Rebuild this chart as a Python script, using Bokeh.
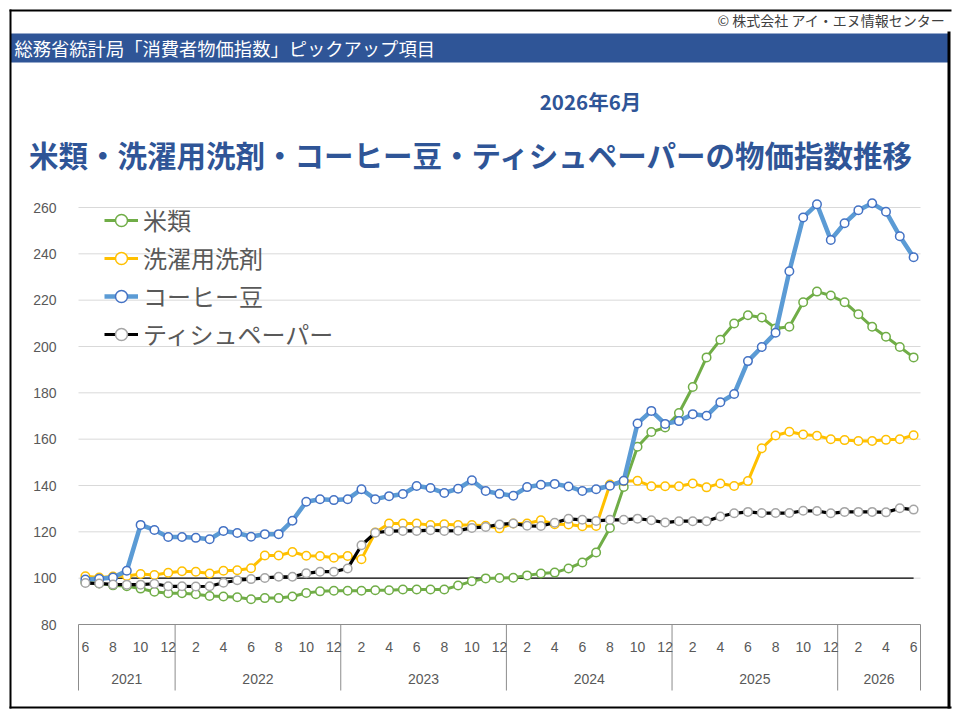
from bokeh.plotting import figure
from bokeh.models import (Range1d, LinearAxis, FixedTicker, Legend, LegendItem,
                          ColumnDataSource)
from bokeh.core.properties import value
from bokeh.embed import file_html
from bokeh.resources import INLINE

# ---- data: monthly CPI, 2020 = 100, from 2021-06 to 2026-06 ----
year_labels = ["2021", "2022", "2023", "2024", "2025", "2026"]
months_per_year = [7, 12, 12, 12, 12, 6]
month_labels = ([6, 7, 8, 9, 10, 11, 12]
                + list(range(1, 13)) * 4
                + [1, 2, 3, 4, 5, 6])

rice = [98.2, 97.7, 96.9, 96.5, 95.5, 94.1, 93.5, 93.5, 93.1, 92.3, 92.1, 91.8,
        90.9, 91.4, 91.4, 92.1, 93.6, 94.3, 94.6, 94.6, 94.6, 94.8, 94.8, 95.1,
        95.1, 95.1, 95.1, 96.8, 98.7, 99.9, 100.1, 100.2, 101.2, 102.0, 102.4,
        104.2, 106.8, 111.1, 121.7, 139.4, 156.7, 163.1, 165.0, 171.3, 182.5,
        195.3, 202.9, 209.9, 213.5, 212.5, 207.8, 208.5, 219.1, 223.7, 222.0,
        219.1, 213.9, 208.5, 204.2, 199.8, 195.3]
detergent = [100.8, 100.3, 100.7, 100.9, 101.8, 101.4, 102.3, 103.0, 102.8, 102.0,
             103.2, 103.4, 104.3, 109.8, 109.8, 111.3, 109.7, 109.6, 108.8, 109.6,
             108.2, 119.7, 123.6, 123.6, 123.6, 122.9, 123.3, 122.9, 122.9, 122.6,
             121.5, 123.6, 123.6, 125.0, 123.3, 123.2, 122.4, 122.5, 140.4, 141.8,
             142.0, 139.7, 139.7, 139.7, 140.9, 139.2, 140.9, 139.8, 141.9, 156.1,
             161.6, 163.2, 162.0, 161.5, 160.0, 159.6, 159.2, 159.2, 159.7, 160.0,
             161.7]
coffee = [99.4, 99.7, 100.3, 103.2, 123.0, 120.8, 117.8, 117.8, 117.4, 116.8, 120.4,
          119.5, 117.9, 119.0, 119.0, 124.8, 133.0, 134.1, 133.7, 134.1, 138.4, 134.1,
          135.4, 136.3, 139.8, 138.9, 136.8, 138.6, 142.3, 137.6, 136.4, 135.6, 139.3,
          140.3, 140.7, 139.6, 137.6, 138.4, 139.9, 142.0, 166.8, 172.2, 166.6, 167.8,
          170.8, 170.1, 175.9, 179.5, 193.7, 199.8, 205.9, 232.5, 255.7, 261.4, 246.0,
          253.2, 258.8, 261.8, 258.2, 247.6, 238.5]
tissue = [97.9, 97.7, 97.3, 97.2, 97.2, 97.6, 96.5, 96.5, 96.4, 96.5, 98.0, 99.1,
          99.6, 100.1, 100.6, 100.6, 102.1, 102.8, 102.8, 104.2, 114.2, 119.6, 120.3,
          120.4, 120.4, 120.7, 120.4, 120.5, 121.7, 122.1, 123.2, 123.6, 122.6, 122.5,
          123.9, 125.6, 125.2, 124.7, 125.2, 125.2, 125.7, 125.0, 124.0, 124.6, 124.6,
          124.6, 126.6, 128.0, 128.6, 128.1, 128.1, 128.1, 129.1, 129.0, 128.0, 128.6,
          128.6, 128.6, 128.4, 130.2, 129.6]
BASE = 100
y_ticks = [80, 100, 120, 140, 160, 180, 200, 220, 240, 260]

series = [
    ("米類", "rice", "#70AD47", "#70AD47", 3),
    ("洗濯用洗剤", "detergent", "#FFC000", "#FFC000", 3),
    ("コーヒー豆", "coffee", "#5B9BD5", "#4472C4", 4.5),
    ("ティシュペーパー", "tissue", "#000000", "#A5A5A5", 3.2),
]

# ---- page geometry (pixels) ----
W, H = 960, 720
PL, PR = 78, 920          # left / right edge of the category area
PY_MIN, PY_MAX = 624, 207  # pixel rows of the lowest and highest value ticks
JP = "Noto Sans CJK JP"
NUM = "'Liberation Sans Narrow', 'Liberation Sans', sans-serif"
AXIS_GREY = "#8C8C8C"
TEXT_GREY = "#595959"
BLUE = "#2F5597"

n = len(rice)
xs = list(range(n))
src = ColumnDataSource(dict(x=xs, rice=rice, detergent=detergent,
                            coffee=coffee, tissue=tissue))

# the plotting frame fills the page; ranges are set so the chart area
# lands on the wanted pixel box
cell = (PR - PL) / n
ppu = (PY_MIN - PY_MAX) / (y_ticks[-1] - y_ticks[0])
x_lo, x_hi = -0.5, n - 0.5
x_range = Range1d(x_lo - PL / cell, x_hi + (W - PR) / cell)
y_range = Range1d(y_ticks[0] - (H - PY_MIN) / ppu, y_ticks[0] + PY_MIN / ppu)

p = figure(width=W, height=H, output_backend="svg", toolbar_location=None,
           x_range=x_range, y_range=y_range,
           x_axis_location=None, y_axis_location=None, min_border=0)
p.outline_line_color = None
p.background_fill_color = "white"
p.border_fill_color = "white"
p.xgrid.visible = False
p.ygrid.visible = False
# page-pixel coordinate system for the header and frame decoration
p.extra_x_ranges = {"px": Range1d(0, W)}
p.extra_y_ranges = {"px": Range1d(H, 0)}

# ---- page decoration ----
p.quad(left=[10], right=[948], top=[33], bottom=[62], x_range_name="px",
       y_range_name="px", fill_color=BLUE, line_color=None)
p.quad(left=[9, 9, 9, 947], right=[951, 11, 951, 950], top=[9, 9, 706, 31],
       bottom=[11, 708, 708, 708], x_range_name="px", y_range_name="px",
       fill_color="black", line_color=None)
p.text(x=[945], y=[19], text=["© 株式会社 アイ・エヌ情報センター"],
       x_range_name="px", y_range_name="px", text_align="right",
       text_baseline="middle", text_font=value(JP), text_font_size="14px",
       text_color="#404040")
p.text(x=[14], y=[47], text=["総務省統計局「消費者物価指数」ピックアップ項目"],
       x_range_name="px", y_range_name="px", text_align="left",
       text_baseline="middle", text_font=value(JP), text_font_size="18.3px",
       text_color="white")
p.text(x=[590], y=[100], text=["2026年6月"], x_range_name="px",
       y_range_name="px", text_align="center", text_baseline="middle",
       text_font=value(JP), text_font_size="20.5px", text_font_style="bold",
       text_color=BLUE)
p.text(x=[471], y=[153],
       text=["米類・洗濯用洗剤・コーヒー豆・ティシュペーパーの物価指数推移"],
       x_range_name="px", y_range_name="px", text_align="center",
       text_baseline="middle", text_font=value(JP), text_font_size="29.5px",
       text_font_style="bold", text_color=BLUE)

# ---- gridlines ----
grid_vals = y_ticks[1:]
p.segment(x0=[x_lo] * len(grid_vals), x1=[x_hi] * len(grid_vals),
          y0=grid_vals, y1=grid_vals, line_color="#D9D9D9", line_width=1)

# ---- value axis ----
yax = LinearAxis(fixed_location=x_lo, bounds=(y_ticks[0], y_ticks[-1]),
                 ticker=FixedTicker(ticks=y_ticks, minor_ticks=[]),
                 axis_line_color=None, major_tick_line_color=None,
                 minor_tick_line_color=None, major_label_standoff=16,
                 major_label_text_font=NUM, major_label_text_font_size="14px",
                 major_label_text_color=TEXT_GREY)
p.add_layout(yax, "left")

# ---- two-level category axis: months (even ones labelled) and years ----
bounds = [x_lo]
for m in months_per_year:
    bounds.append(bounds[-1] + m)
year_centers = [(bounds[k] + bounds[k + 1]) / 2 for k in range(len(year_labels))]
month_ticks = [i for i in xs if month_labels[i] % 2 == 0]

month_axis = LinearAxis(fixed_location=y_ticks[0], bounds=(x_lo, x_hi),
                        ticker=FixedTicker(ticks=month_ticks, minor_ticks=[]),
                        major_label_overrides={i: str(month_labels[i]) for i in month_ticks},
                        major_tick_line_color=None, major_tick_in=0, major_tick_out=0,
                        minor_tick_line_color=None,
                        axis_line_color=AXIS_GREY, axis_line_width=1,
                        major_label_standoff=17, major_label_text_font=NUM,
                        major_label_text_font_size="14px",
                        major_label_text_color=TEXT_GREY)
p.add_layout(month_axis, "below")
year_axis = LinearAxis(fixed_location=y_ticks[0], bounds=(x_lo, x_hi),
                       ticker=FixedTicker(ticks=year_centers, minor_ticks=[]),
                       major_label_overrides={c: t for c, t in zip(year_centers, year_labels)},
                       axis_line_color=None, major_tick_line_color=None,
                       major_tick_in=0, major_tick_out=0,
                       minor_tick_line_color=None, major_label_standoff=49,
                       major_label_text_font=NUM, major_label_text_font_size="14px",
                       major_label_text_color=TEXT_GREY)
p.add_layout(year_axis, "below")

# year separators hanging below the category axis line
sep_depth = 66 / ppu
p.segment(x0=bounds, x1=bounds, y0=[y_ticks[0]] * len(bounds),
          y1=[y_ticks[0] - sep_depth] * len(bounds), line_color=AXIS_GREY,
          line_width=1)

# ---- 100 reference line ----
p.segment(x0=[xs[0]], x1=[xs[-1]], y0=[BASE], y1=[BASE], line_color="black",
          line_width=1.2)

# ---- series ----
items = []
for name, col, lc, mc, lw in series:
    r_line = p.line("x", col, source=src, line_color=lc, line_width=lw,
                    line_join="round")
    r_pts = p.scatter("x", col, source=src, marker="circle", size=8.5,
                      fill_color="white", line_color=mc, line_width=1.5)
    items.append(LegendItem(label=name, renderers=[r_line, r_pts]))

legend = Legend(items=items, location=(104, H - 351),
                orientation="vertical", glyph_width=34, glyph_height=30,
                label_standoff=5, spacing=3, padding=0, margin=0,
                border_line_color=None, background_fill_alpha=0,
                label_text_font=JP, label_text_font_size="24px",
                label_text_color=TEXT_GREY, label_height=30)
p.add_layout(legend, "center")

open("out.html", "w").write(file_html(p, INLINE))
